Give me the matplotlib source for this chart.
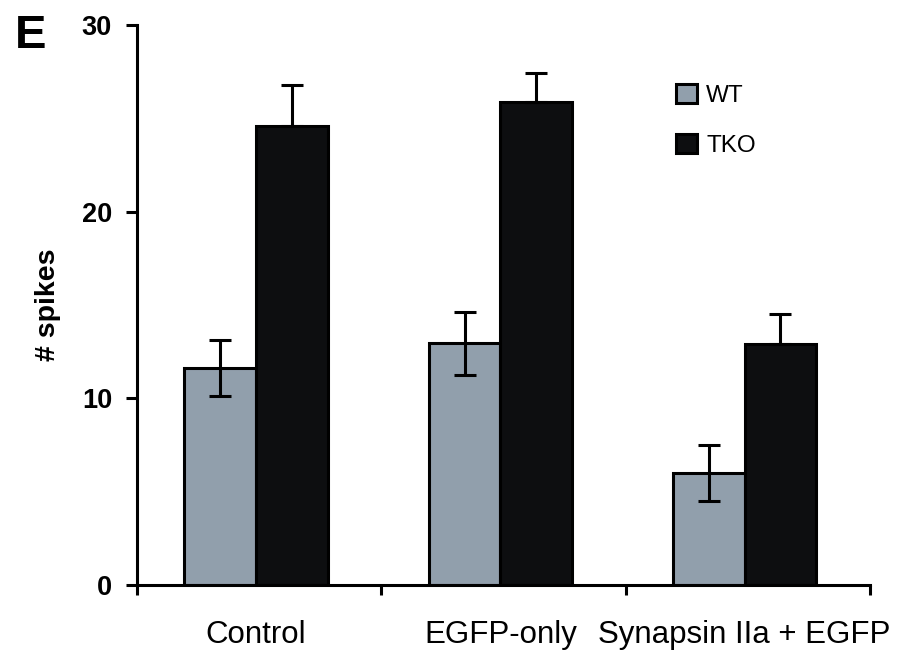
import matplotlib.pyplot as plt
import numpy as np
from matplotlib.patches import Patch

# values
groups = ['Control', 'EGFP-only', 'Synapsin IIa + EGFP']
wt_mean = [11.6, 12.95, 6.0]
wt_err = [1.5, 1.7, 1.5]
tko_mean = [24.6, 25.85, 12.9]
tko_err = [2.2, 1.6, 1.6]
yticks = [0, 10, 20, 30]

wt_color = '#919fac'
tko_color = '#0d0e10'

plt.rcParams['font.family'] = ['Liberation Sans', 'DejaVu Sans']

fig = plt.figure(figsize=(9.14, 6.51), dpi=100)
ax = fig.add_axes([137 / 914, 1 - 585 / 651, (870 - 137) / 914, (585 - 25) / 651])

x = np.arange(len(groups))
width = 0.293
lw = 2.2
ekw = dict(ecolor='black', elinewidth=lw, capsize=8, capthick=lw)

ax.bar(x - width / 2, wt_mean, width, color=wt_color, edgecolor='black', linewidth=lw,
       yerr=wt_err, error_kw=ekw, zorder=2)
# TKO whiskers only show above the black bars
ax.bar(x + width / 2, tko_mean, width, color=tko_color, edgecolor='black', linewidth=lw,
       yerr=[np.zeros(len(tko_err)), tko_err], error_kw=ekw, zorder=2)

ax.set_xlim(-0.487, 2.513)
ax.set_ylim(0, 30)

for s in ['top', 'right']:
    ax.spines[s].set_visible(False)
for s in ['left', 'bottom']:
    ax.spines[s].set_linewidth(lw)

ax.set_yticks(yticks)
ax.set_yticklabels([str(v) for v in yticks], fontweight='bold', fontsize=19.5)
ax.tick_params(axis='y', length=8, width=lw, pad=10)

# category labels at group centres, ticks at the boundaries
ax.set_xticks(x)
ax.set_xticklabels(groups, fontsize=22.5)
ax.tick_params(axis='x', which='major', length=0, pad=25)
ax.set_xticks([-0.487, 0.513, 1.513, 2.513], minor=True)
ax.tick_params(axis='x', which='minor', length=7, width=lw)

ax.set_ylabel('# spikes', fontsize=20.5, fontweight='bold', labelpad=15)

handles = [Patch(facecolor=wt_color, edgecolor='black', linewidth=lw, label='WT'),
           Patch(facecolor=tko_color, edgecolor='black', linewidth=lw, label='TKO')]
ax.legend(handles=handles, loc='upper left', bbox_to_anchor=(676 / 914, 1 - 84 / 651),
          bbox_transform=fig.transFigure, frameon=False, fontsize=17.5,
          handlelength=0.85, handleheight=0.85, handletextpad=0.4, labelspacing=1.1,
          borderpad=0, borderaxespad=0)

fig.text(15 / 914, 1 - 48 / 651, 'E', fontsize=34, fontweight='bold', ha='left', va='baseline')

plt.savefig('out.png', dpi=100)
plt.close()
